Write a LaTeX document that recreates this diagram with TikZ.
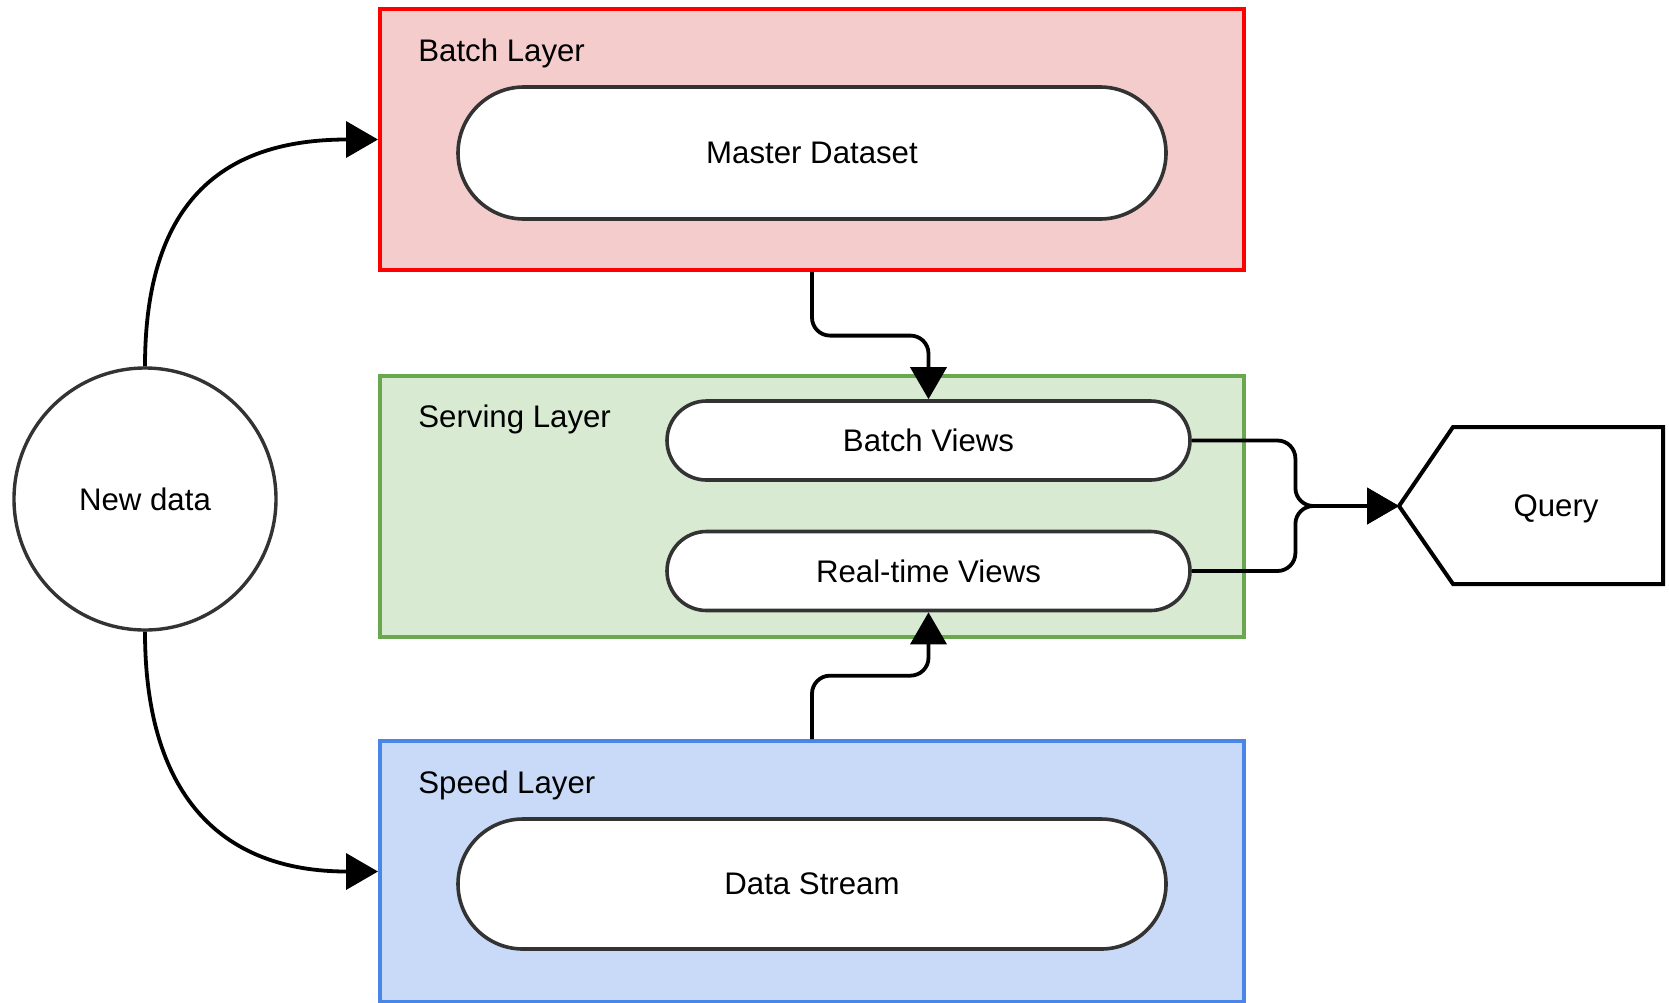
\documentclass[tikz,border=0pt]{standalone}
\usepackage{fontspec}
\setmainfont{Liberation Sans}
\usetikzlibrary{arrows.meta,shapes.misc,calc}
\definecolor{batchfill}{HTML}{F4CCCC}
\definecolor{batchline}{HTML}{FF0000}
\definecolor{servfill}{HTML}{D9EAD3}
\definecolor{servline}{HTML}{6AA84F}
\definecolor{speedfill}{HTML}{C9DAF8}
\definecolor{speedline}{HTML}{4A86E8}
\definecolor{pillgray}{HTML}{333333}
\begin{document}
\begin{tikzpicture}[x=0.5pt,y=-0.5pt,
  every node/.style={font=\fontsize{15.6pt}{18pt}\selectfont},
  layer/.style={draw, rectangle, minimum width=432pt, minimum height=130.5pt, line width=2pt, inner sep=0pt},
  pill/.style={draw=pillgray, fill=white, rounded rectangle, line width=1.8pt, inner sep=0pt},
  lbl/.style={anchor=base west, inner sep=0pt},
  conn/.style={draw=black, line width=1.9pt, -{Triangle[length=16pt,width=18pt]}, rounded corners=9pt}
]
\useasboundingbox (0,0) rectangle (1669,1002);

% layers
\node[layer, draw=batchline, fill=batchfill] (batch) at (812,139.5) {};
\node[layer, draw=servline, fill=servfill] (serv) at (812,506) {};
\node[layer, draw=speedline, fill=speedfill] (speed) at (812,871.5) {};

\node[lbl] (batchlbl) at (418,61) {Batch Layer};
\node[lbl] (servlbl) at (418,427) {Serving Layer};
\node[lbl] (speedlbl) at (418,793) {Speed Layer};

% pills
\node[pill, minimum width=354pt, minimum height=66pt] (master) at (812,153) {Master Dataset};
\node[pill, minimum width=261.5pt, minimum height=39.5pt] (bv) at (928.5,440.5) {Batch Views};
\node[pill, minimum width=261.5pt, minimum height=39.5pt] (rt) at (928.5,571) {Real-time Views};
\node[pill, minimum width=354pt, minimum height=65pt] (ds) at (812,884) {Data Stream};

% new data
\node[draw=pillgray, fill=white, circle, line width=1.7pt, minimum size=131pt, inner sep=0pt] (nd) at (145,499) {New data};

% query
\node[rectangle, minimum width=105pt, minimum height=78.5pt, inner sep=0pt, outer sep=0pt] (query) at (1558,505.5) {};
\node (qtext) at (1556,509) {Query};
\coordinate (qtip) at (1399,506);
\draw[line width=2pt, line join=miter] (query.north west) -- (qtip) -- (query.south west) -- (query.south east) -- (query.north east) -- cycle;

% connectors
\draw[conn] (nd.north) .. controls ($(nd.north)+(0,-160)$) and ($(batch.west)+(-160,0)$) .. (batch.west);
\draw[conn] (nd.south) .. controls ($(nd.south)+(0,160)$) and ($(speed.west)+(-160,0)$) .. (speed.west);

\coordinate (m1) at ($(batch.south)!0.5!(bv.north)$);
\draw[conn] (batch.south) |- (m1) -| (bv.north);
\coordinate (m2) at ($(speed.north)!0.5!(rt.south)$);
\draw[conn] (speed.north) |- (m2) -| (rt.south);

\coordinate (m3) at ($(bv.east)!0.5!(qtip)$);
\draw[conn] (bv.east) -- (bv.east -| m3) |- (qtip);
\draw[conn] (rt.east) -- (rt.east -| m3) |- (qtip);
\end{tikzpicture}
\end{document}
